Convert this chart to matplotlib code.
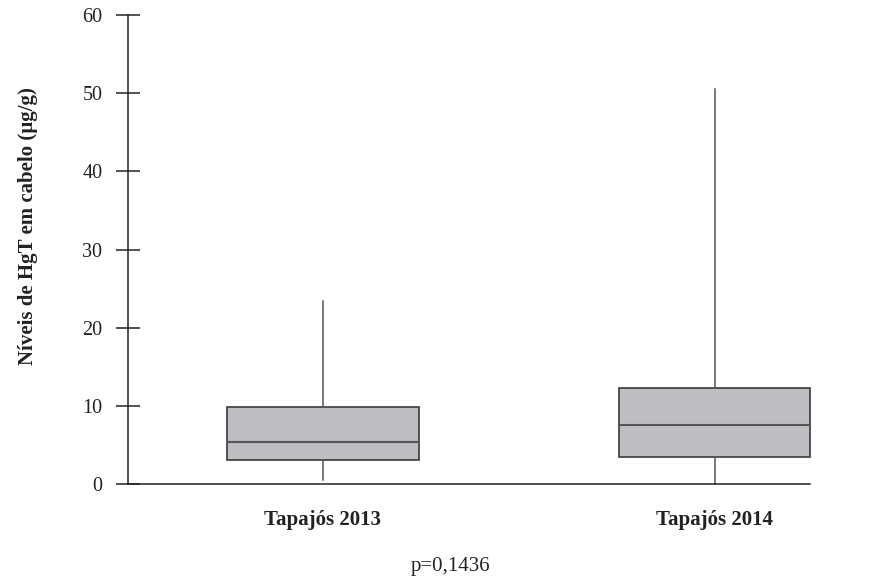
import matplotlib
matplotlib.use("Agg")
import matplotlib.pyplot as plt

# Summary stats (µg/g)
groups = ["Tapajós 2013", "Tapajós 2014"]
whislo = [0.5, 0.0]
q1 = [3.1, 3.4]
median = [5.4, 7.6]
q3 = [9.8, 12.3]
whishi = [23.4, 50.6]
p_value = "p=0,1436"
y_label = "Níveis de HgT em cabelo (µg/g)"

plt.rcParams["font.family"] = ["Liberation Serif", "DejaVu Serif"]

stats = []
for i, g in enumerate(groups):
    stats.append({"label": g, "whislo": whislo[i], "q1": q1[i], "med": median[i],
                  "q3": q3[i], "whishi": whishi[i], "fliers": []})

fig = plt.figure(figsize=(8.76, 5.78), dpi=100)
ax = fig.add_axes([0.1461, 0.1626, 0.7786, 0.8114])

parts = ax.bxp(stats, positions=[1, 2], widths=0.488, patch_artist=True,
               showcaps=False, showfliers=False,
               boxprops=dict(facecolor="#bdbec2", edgecolor="#3a3a3a", linewidth=1.2),
               medianprops=dict(color="#555555", linewidth=1.5),
               whiskerprops=dict(color="#555555", linewidth=1.1))
for art in parts["boxes"] + parts["medians"] + parts["whiskers"]:
    art.set_clip_on(False)

ax.set_xlim(0.502, 2.244)
ax.set_ylim(0, 60)
ax.set_yticks(range(0, 61, 10))

for side in ("top", "right"):
    ax.spines[side].set_visible(False)
for side in ("left", "bottom"):
    ax.spines[side].set_color("#222222")
    ax.spines[side].set_linewidth(1.1)

ax.tick_params(axis="y", direction="inout", length=17, width=1.1, color="#222222",
               labelsize=14.5, pad=10, labelcolor="#222222")
ax.tick_params(axis="x", length=0, labelsize=15, pad=19, labelcolor="#222222")
for lbl in ax.get_xticklabels():
    lbl.set_fontweight("bold")

fig.text(28 / 876, 1 - 226 / 578, y_label, rotation=90, ha="center", va="center",
         fontsize=15, fontweight="bold", color="#222222")

fig.text(451 / 876, 1 - 566 / 578, p_value, ha="center", va="center",
         fontsize=15, color="#222222")

fig.savefig("out.png", dpi=100)
